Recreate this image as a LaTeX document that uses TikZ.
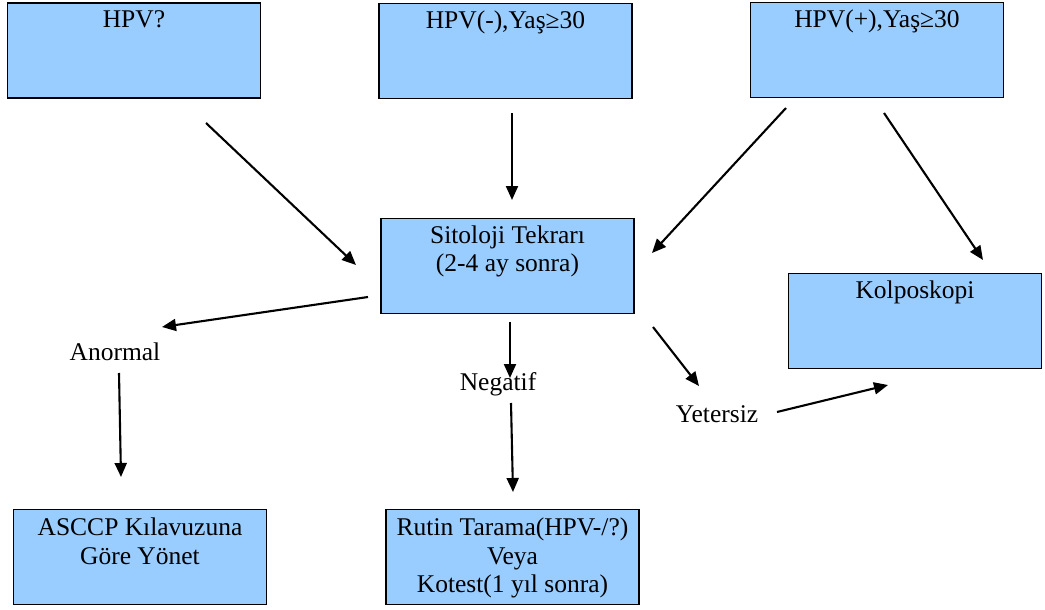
\documentclass[tikz,border=0pt]{standalone}
\usepackage{fontspec}
\setmainfont{Liberation Serif}
\usetikzlibrary{arrows.meta}
\definecolor{boxblue}{HTML}{99CCFF}
\begin{document}
\begin{tikzpicture}[x=1pt,y=-1pt,
  box/.style={draw=black, line width=1.7pt, fill=boxblue,
    minimum width=253pt, minimum height=95pt, inner sep=0pt},
  boxtext/.style={anchor=north, inner sep=0pt, align=center,
    font=\fontsize{25.5}{28.5}\selectfont},
  tag/.style={anchor=base, inner sep=0pt, font=\fontsize{25.5}{28.5}\selectfont},
  flow/.style={line width=2.1pt, -{Triangle[length=14pt,width=12pt]}}]

\useasboundingbox[fill=white] (0,0) rectangle (1045,610);

% boxes
\node[box] (hpvq)  at (134,50.5) {};
\node[box] (hpvn)  at (505.5,51) {};
\node[box] (hpvp)  at (877,50) {};
\node[box] (sito)  at (507.5,266) {};
\node[box] (kolpo) at (915,321) {};
\node[box] (ascc)  at (140,557) {};
\node[box] (rutin) at (512.5,557) {};

% box texts
\node[boxtext] (hpvqt)  at ([yshift=-5.5pt]hpvq.north)  {\strut HPV?};
\node[boxtext] (hpvnt)  at ([yshift=-5.5pt]hpvn.north)  {\strut HPV(-),Yaş≥30};
\node[boxtext] (hpvpt)  at ([yshift=-5.5pt]hpvp.north)  {\strut HPV(+),Yaş≥30};
\node[boxtext] (sitot)  at ([yshift=-5.5pt]sito.north)  {\strut Sitoloji Tekrarı\\(2-4 ay sonra)};
\node[boxtext] (kolpot) at ([yshift=-5.5pt]kolpo.north) {\strut Kolposkopi};
\node[boxtext] (asccp)  at ([yshift=-7pt]ascc.north)    {\strut ASCCP Kılavuzuna\\Göre Yönet};
\node[boxtext] (rutint) at ([yshift=-7pt]rutin.north)   {\strut Rutin Tarama(HPV-/?)\\Veya\\Kotest(1 yıl sonra)};

% result labels
\node[tag] (anormal)  at (115,360) {Anormal};
\node[tag] (negatif)  at (498,390) {Negatif};
\node[tag] (yetersiz) at (717,422) {Yetersiz};

% connector end points
\coordinate (q1) at (206,123);  \coordinate (q2) at (356,265);
\coordinate (n1) at (512,113);  \coordinate (n2) at (512,200);
\coordinate (p1) at (786,108);  \coordinate (p2) at (652,253);
\coordinate (k1) at (884,113);  \coordinate (k2) at (983,260);
\coordinate (s1) at (368,297);  \coordinate (s2) at (162,327);
\coordinate (s3) at (510,322);  \coordinate (s4) at (510,378);
\coordinate (s5) at (653,327);  \coordinate (s6) at (699,386);
\coordinate (a1) at (119,373);  \coordinate (a2) at (121,477);
\coordinate (g1) at (511,403);  \coordinate (g2) at (513,492);
\coordinate (y1) at (777,412);  \coordinate (y2) at (888,385);

% connectors
\draw[flow] (q1) -- (q2);
\draw[flow] (n1) -- (n2);
\draw[flow] (p1) -- (p2);
\draw[flow] (k1) -- (k2);
\draw[flow] (s1) -- (s2);
\draw[flow] (s3) -- (s4);
\draw[flow] (s5) -- (s6);
\draw[flow] (a1) -- (a2);
\draw[flow] (g1) -- (g2);
\draw[flow] (y1) -- (y2);
\end{tikzpicture}
\end{document}
